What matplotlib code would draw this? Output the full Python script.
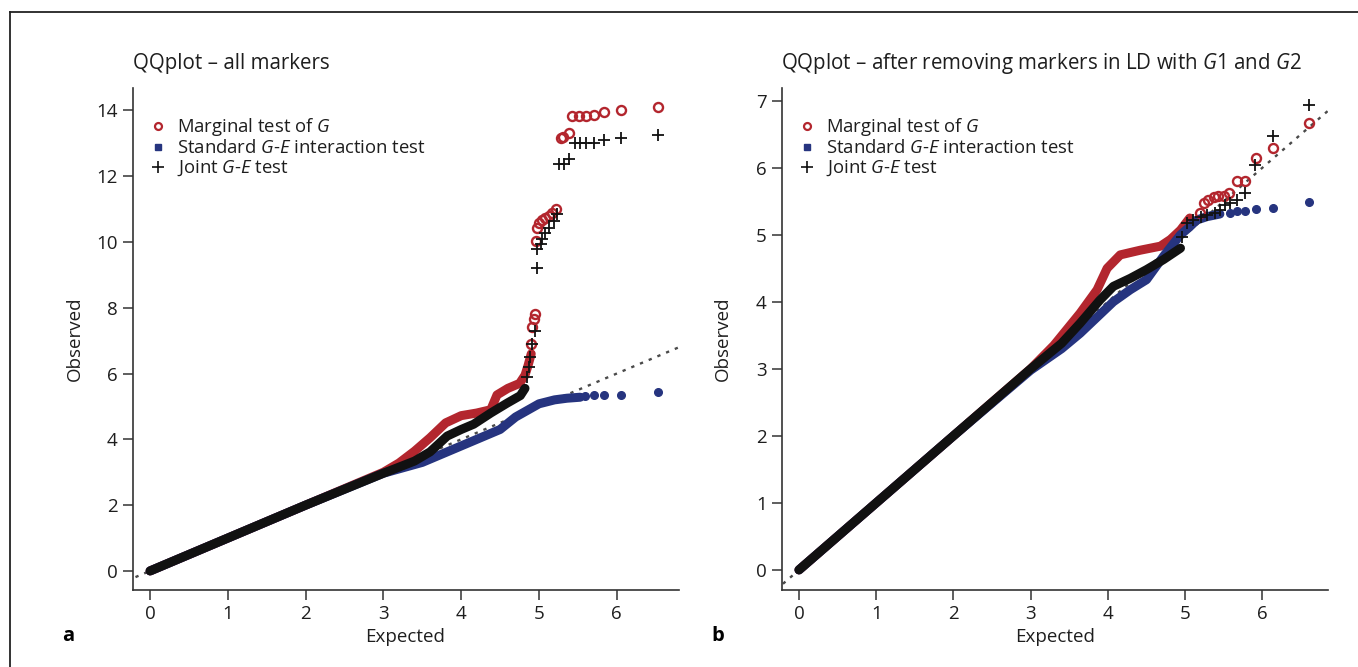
import matplotlib.pyplot as plt
from matplotlib.lines import Line2D

# ===============================
# FONTS
# ===============================
plt.rcParams['font.family'] = ['Open Sans', 'DejaVu Sans']
plt.rcParams['mathtext.fontset'] = 'custom'
plt.rcParams['mathtext.rm'] = 'Open Sans'
plt.rcParams['mathtext.it'] = 'Open Sans:italic'

# ===============================
# DATA
# ===============================
# panel a - dense part of each series (expected, observed)
red_a_x = [0, 1, 2, 3.0, 3.2, 3.4, 3.6, 3.8, 4.0, 4.2, 4.38, 4.46, 4.6, 4.75, 4.82, 4.86, 4.9]
red_a_y = [0, 1, 2, 3.0, 3.28, 3.64, 4.05, 4.5, 4.72, 4.8, 4.9, 5.35, 5.55, 5.7, 5.95, 6.25, 6.6]
blue_a_x = [0, 1, 2, 3.0, 3.5, 4.0, 4.25, 4.5, 4.7, 5.0, 5.2, 5.36, 5.53]
blue_a_y = [0, 1, 2, 2.97, 3.3, 3.8, 4.05, 4.3, 4.68, 5.08, 5.2, 5.25, 5.28]
black_a_x = [0, 1, 2, 3.0, 3.4, 3.6, 3.82, 4.0, 4.16, 4.38, 4.59, 4.76, 4.82]
black_a_y = [0, 1, 2, 2.97, 3.34, 3.62, 4.1, 4.3, 4.46, 4.8, 5.1, 5.33, 5.55]

# panel a - sparse tail points
red_a_tx = [4.90, 4.91, 4.93, 4.95, 4.96, 4.98, 5.0, 5.04, 5.08, 5.13, 5.17, 5.22,
            5.28, 5.31, 5.38, 5.43, 5.51, 5.60, 5.71, 5.84, 6.06, 6.53]
red_a_ty = [6.9, 7.4, 7.65, 7.8, 10.03, 10.43, 10.59, 10.66, 10.74, 10.79, 10.89, 10.99,
            13.17, 13.19, 13.3, 13.83, 13.83, 13.83, 13.86, 13.95, 14.01, 14.10]
black_a_tx = [4.85, 4.87, 4.88, 4.91, 4.95, 4.98, 4.98, 5.02, 5.04, 5.08, 5.13, 5.19, 5.23,
              5.26, 5.32, 5.38, 5.46, 5.53, 5.61, 5.71, 5.84, 6.06, 6.53]
black_a_ty = [5.9, 6.2, 6.5, 6.9, 7.3, 9.22, 9.78, 9.93, 10.08, 10.28, 10.43, 10.64, 10.84,
              12.36, 12.38, 12.51, 13.0, 13.0, 13.0, 13.02, 13.1, 13.15, 13.24]
blue_a_tx = [5.59, 5.71, 5.84, 6.06, 6.53]
blue_a_ty = [5.32, 5.34, 5.35, 5.35, 5.45]

# panel b - dense part
red_b_x = [0, 1, 2, 3.0, 3.3, 3.64, 3.86, 3.99, 4.16, 4.42, 4.68, 4.81, 4.94, 5.06]
red_b_y = [0, 1, 2, 3.0, 3.35, 3.83, 4.18, 4.5, 4.7, 4.77, 4.83, 4.93, 5.07, 5.25]
blue_b_x = [0, 1, 2, 3.0, 3.4, 3.64, 4.07, 4.29, 4.50, 4.72, 4.94, 5.06, 5.15, 5.28, 5.45]
blue_b_y = [0, 1, 2, 2.98, 3.3, 3.53, 4.0, 4.18, 4.33, 4.68, 5.0, 5.12, 5.22, 5.27, 5.31]
black_b_x = [0, 1, 2, 3.0, 3.4, 3.64, 3.90, 4.07, 4.29, 4.50, 4.72, 4.94]
black_b_y = [0, 1, 2, 3.0, 3.38, 3.68, 4.03, 4.23, 4.35, 4.48, 4.63, 4.80]

# panel b - sparse tail points
red_b_tx = [5.19, 5.24, 5.30, 5.37, 5.43, 5.50, 5.57, 5.67, 5.77, 5.92, 6.14, 6.60]
red_b_ty = [5.32, 5.47, 5.52, 5.56, 5.58, 5.58, 5.62, 5.80, 5.80, 6.14, 6.30, 6.67]
black_b_tx = [4.96, 5.02, 5.10, 5.20, 5.28, 5.39, 5.45, 5.52, 5.58, 5.67, 5.78, 5.91, 6.14, 6.60]
black_b_ty = [4.97, 5.17, 5.22, 5.27, 5.30, 5.32, 5.37, 5.45, 5.47, 5.52, 5.62, 6.04, 6.48, 6.93]
blue_b_tx = [5.58, 5.67, 5.77, 5.92, 6.14, 6.60]
blue_b_ty = [5.32, 5.35, 5.36, 5.38, 5.40, 5.49]

legend_labels = ["Marginal test of $G$", "Standard $G$-$E$ interaction test", "Joint $G$-$E$ test"]

RED = '#b3262e'
BLUE = '#26347f'
BLACK = '#111111'
AXC = '#333333'
TXT = '#1e1e1e'

W, H = 1358, 667
fig = plt.figure(figsize=(W / 100, H / 100), dpi=100)


def px(x, y):
    return x / W, 1 - y / H


def make_panel(left, xlim, ylim, yticks, dense, tails):
    ax = fig.add_axes([left / W, 1 - 590 / H, 546 / W, 502 / H])
    # reference line
    ax.plot([-0.3, 7.0], [-0.3, 7.0], color='#4a4a4a', lw=1.7,
            linestyle=(0, (1.4, 2.6)), zorder=1)
    colors = [RED, BLUE, BLACK]
    for (xs, ys), c in zip(dense, colors):
        ax.plot(xs, ys, color=c, lw=6.5, solid_capstyle='round',
                solid_joinstyle='round', zorder=2)
    (rx, ry), (bx, by), (kx, ky) = tails
    ax.plot(rx, ry, 'o', ms=6.5, mfc='none', mec=RED, mew=1.7, zorder=3)
    ax.plot(bx, by, 'o', ms=5.5, mfc=BLUE, mec=BLUE, zorder=3)
    ax.plot(kx, ky, '+', ms=9, mec=BLACK, mew=1.3, zorder=4)

    ax.set_xlim(*xlim)
    ax.set_ylim(*ylim)
    ax.set_xticks(range(0, 7))
    ax.set_yticks(yticks)
    for s in ['top', 'right']:
        ax.spines[s].set_visible(False)
    for s in ['left', 'bottom']:
        ax.spines[s].set_color(AXC)
        ax.spines[s].set_linewidth(1.2)
    ax.tick_params(direction='out', length=7, width=1.1, color=AXC,
                   labelsize=13.5, labelcolor=TXT, pad=4)

    handles = [
        Line2D([], [], ls='none', marker='o', ms=5, mfc='none', mec=RED, mew=1.6),
        Line2D([], [], ls='none', marker='s', ms=5, mfc=BLUE, mec=BLUE),
        Line2D([], [], ls='none', marker='+', ms=8, mec=BLACK, mew=1.2),
    ]
    leg = ax.legend(handles, legend_labels, loc='upper left',
                    bbox_to_anchor=px(left + 18, 116), bbox_transform=fig.transFigure,
                    frameon=False, fontsize=13.3, handlelength=0.8, handletextpad=0.6,
                    labelspacing=0.08, borderpad=0, borderaxespad=0)
    for t in leg.get_texts():
        t.set_color(TXT)
    return ax


ax_a = make_panel(133, (-0.22, 6.80), (-0.58, 14.68), range(0, 15, 2),
                  [(red_a_x, red_a_y), (blue_a_x, blue_a_y), (black_a_x, black_a_y)],
                  [(red_a_tx, red_a_ty), (blue_a_tx, blue_a_ty), (black_a_tx, black_a_ty)])
ax_b = make_panel(782, (-0.22, 6.85), (-0.30, 7.19), range(0, 8),
                  [(red_b_x, red_b_y), (blue_b_x, blue_b_y), (black_b_x, black_b_y)],
                  [(red_b_tx, red_b_ty), (blue_b_tx, blue_b_ty), (black_b_tx, black_b_ty)])

# ===============================
# TEXTS
# ===============================
fig.text(*px(133, 63), "QQplot – all markers", fontsize=14.8, va='center', color=TXT)
fig.text(*px(781, 63), "QQplot – after removing markers in LD with $G$1 and $G$2",
         fontsize=14.8, va='center', color=TXT)
for x in (75, 723):
    fig.text(*px(x, 339), "Observed", rotation=90, fontsize=13.5, ha='center', va='center',
             color=TXT)
for x in (405, 1055):
    fig.text(*px(x, 637), "Expected", fontsize=13.5, ha='center', va='center', color=TXT)
fig.text(*px(68, 636), "a", fontsize=14.5, fontweight='bold', ha='center', va='center')
fig.text(*px(718, 636), "b", fontsize=14.5, fontweight='bold', ha='center', va='center')

# outer frame (left and top edges)
fig.add_artist(Line2D([10 / W, 10 / W], [0, 1 - 12 / H], transform=fig.transFigure,
                      color='#222222', lw=1.3))
fig.add_artist(Line2D([10 / W, 1], [1 - 12 / H, 1 - 12 / H], transform=fig.transFigure,
                      color='#222222', lw=1.3))

fig.savefig("out.png", dpi=100)
